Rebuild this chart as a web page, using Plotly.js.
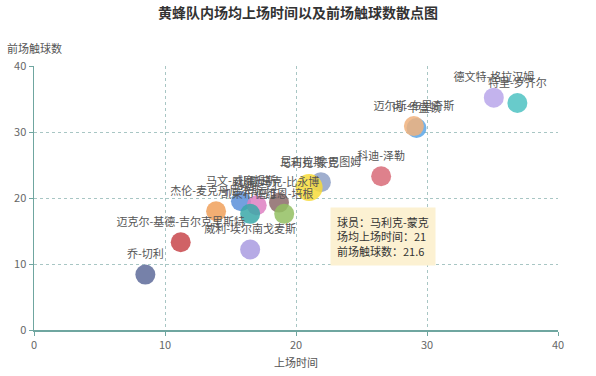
<!DOCTYPE html>
<html>
<head>
<meta charset="utf-8">
<script src="https://cdn.plot.ly/plotly-3.0.1.min.js"></script>
<style>html,body{margin:0;padding:0;background:#fff}#chart{width:596px;height:376px}</style>
</head>
<body>
<div id="chart"></div>
<script>
// Data
const players = ['乔-切利','迈克尔-基德-吉尔克里斯特','杰伦-麦克丹尼尔斯','马文-威廉姆斯','科迪-马丁','凯莱布-马丁','威利-埃尔南戈麦斯','比斯马克-比永博','德维恩-培根','尼古拉斯-巴图姆','马利克-蒙克','科迪-泽勒','PJ-华盛顿','迈尔斯-布里奇斯','德文特-格拉汉姆','特里-罗齐尔'];
const minutes = [8.5, 11.2, 13.9, 15.8, 17.0, 16.5, 16.5, 18.7, 19.1, 21.9, 21, 26.5, 29.2, 29.0, 35.1, 36.9];
const touches = [8.4, 13.3, 18.0, 19.5, 18.9, 17.6, 12.2, 19.3, 17.6, 22.4, 21.6, 23.3, 30.6, 30.9, 35.2, 34.4];
const palette = ['#5e6b9a','#c8474b','#f0a05a','#5b8fd9','#de80c2','#3aa8a8','#a99be0','#8c6a6a','#93c061','#8ea0c6','#f7da3a','#d86b78','#5ba6e6','#f0b27c','#b9a6ea','#4dc2c2'];
const highlighted = '马利克-蒙克';

const hi = players.indexOf(highlighted);
const sizes = players.map(p => p === highlighted ? 27 : 20);

const trace = {
  type: 'scatter',
  mode: 'markers+text',
  x: minutes,
  y: touches,
  text: players,
  textposition: 'top center',
  textfont: {family: 'Noto Sans CJK SC, sans-serif', size: 11, color: '#555'},
  marker: {color: palette, size: sizes, opacity: 0.85, line: {width: 0}},
  hoverinfo: 'none',
  cliponaxis: false
};

const axisColor = '#6fa6a0';
const gridColor = '#a8c6c4';

const layout = {
  width: 596, height: 376,
  margin: {l: 34, r: 38, t: 66, b: 46},
  paper_bgcolor: '#fff', plot_bgcolor: '#fff',
  showlegend: false,
  font: {family: 'Noto Sans CJK SC, sans-serif', color: '#555'},
  title: {
    text: '<b>黄蜂队内场均上场时间以及前场触球数散点图</b>',
    font: {size: 14, color: '#333', family: 'Noto Sans CJK SC, sans-serif'},
    x: 0.5, xanchor: 'center', y: 1 - 13/376, yanchor: 'middle', yref: 'container'
  },
  xaxis: {
    range: [0, 40], dtick: 10, tick0: 0,
    showline: true, linecolor: axisColor, linewidth: 1.5,
    ticks: 'outside', ticklen: 4, tickcolor: axisColor,
    showgrid: true, gridcolor: gridColor, griddash: 'dot', gridwidth: 1,
    zeroline: false,
    tickfont: {size: 11, color: '#666'}
  },
  yaxis: {
    range: [0, 40], dtick: 10, tick0: 0,
    showline: true, linecolor: axisColor, linewidth: 1.5,
    ticks: 'outside', ticklen: 4, tickcolor: axisColor,
    showgrid: true, gridcolor: gridColor, griddash: 'dot', gridwidth: 1,
    zeroline: false,
    tickfont: {size: 11, color: '#666'}
  },
  annotations: [
    {text: '前场触球数', xref: 'paper', yref: 'paper', x: 0, y: 1 + 18/264,
     xanchor: 'center', yanchor: 'middle', showarrow: false,
     font: {size: 11, color: '#555'}},
    {text: '上场时间', xref: 'paper', yref: 'paper', x: 0.5, y: -32/264,
     xanchor: 'center', yanchor: 'middle', showarrow: false,
     font: {size: 11, color: '#555'}},
    {text: '球员：' + players[hi] + '<br>场均上场时间：' + minutes[hi] + '<br>前场触球数：' + touches[hi],
     xref: 'x', yref: 'y', x: 22.6, y: 18.6, xanchor: 'left', yanchor: 'top',
     align: 'left', showarrow: false, bgcolor: '#fcf1d2', borderpad: 6,
     font: {size: 11, color: '#333'}}
  ]
};

Plotly.newPlot('chart', [trace], layout, {staticPlot: true, displayModeBar: false});
</script>
</body>
</html>
